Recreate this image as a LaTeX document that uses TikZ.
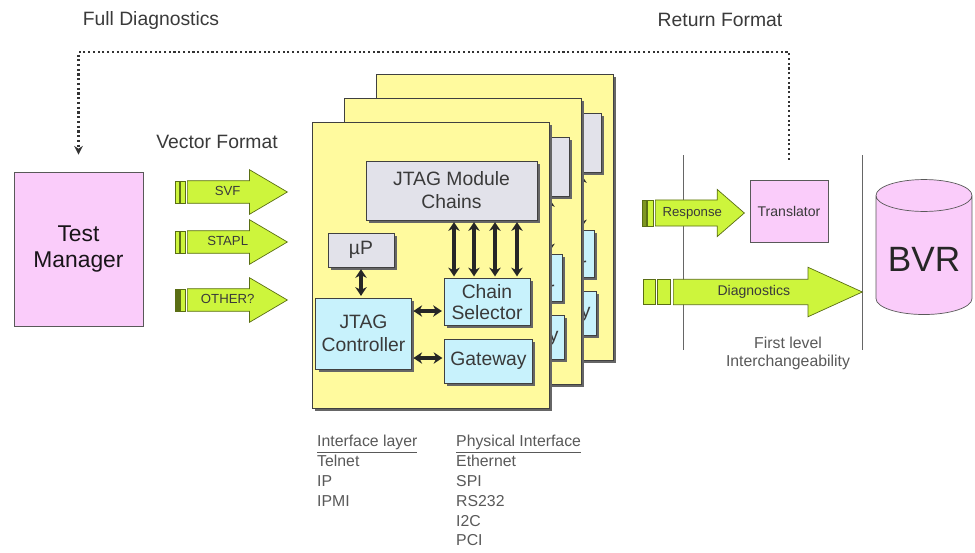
\documentclass[tikz,border=0pt]{standalone}
\usepackage{fontspec}
\setmainfont{Liberation Sans}
\usetikzlibrary{positioning,shapes.arrows,shapes.geometric,arrows.meta,shadows}

\definecolor{cardyellow}{HTML}{FFFA9E}
\definecolor{mgrpink}{HTML}{FACCFA}
\definecolor{ctrlcyan}{HTML}{C8F2FC}
\definecolor{chaingray}{HTML}{E2E2EA}
\definecolor{arrowgreen}{HTML}{CDF53C}
\definecolor{arrowedge}{HTML}{5A6E14}
\definecolor{inkgray}{HTML}{3A3A3A}

\tikzset{
    shadowed/.style={drop shadow={shadow xshift=1.6pt, shadow yshift=-1.6pt, opacity=1, fill=black!60}},
    card/.style={draw=black!75, fill=cardyellow, rectangle, shadowed},
    graybox/.style={draw=black!75, fill=chaingray, rectangle, align=center, text=inkgray,
        font=\fontsize{11}{13}\selectfont, shadowed},
    cyanbox/.style={graybox, fill=ctrlcyan},
    pinkbox/.style={draw=black!65, fill=mgrpink, rectangle, align=center},
    garrow/.style={single arrow, draw=arrowedge, fill=arrowgreen, anchor=tail,
        single arrow head indent=0pt, text=inkgray, font=\fontsize{7.5}{8}\selectfont,
        text height=5pt, text depth=1.5pt, inner xsep=2pt},
    stripe/.style={draw=arrowedge, fill=arrowgreen, rectangle, inner sep=0pt},
    dbl/.style={{Stealth[length=5pt,width=6.5pt]}-{Stealth[length=5pt,width=6.5pt]},
        line width=2pt, black!85, shorten <=1pt, shorten >=1pt},
    heading/.style={text=inkgray, font=\fontsize{11}{12}\selectfont},
    note/.style={text=black!65, align=left, font=\fontsize{9}{11.3}\selectfont},
    fb/.style={line width=1.2pt, black!80, dash pattern=on 1.2pt off 1.5pt,
        -{Stealth[length=5pt,width=5pt]}},
    sepline/.style={black!60, line width=0.5pt}
}

\begin{document}
\begin{tikzpicture}[x=0.02cm, y=-0.02cm]
    \useasboundingbox[fill=white] (0,0) rectangle (975,552);

    % headings
    \node[heading] (fulldiag) at (151,20) {Full Diagnostics};
    \node[heading] (retfmt) at (720,20) {Return Format};
    \node[heading] (vecfmt) at (217,142) {Vector Format};

    % Test Manager
    \node[pinkbox, minimum width=2.58cm, minimum height=3.08cm, text=black!75!mgrpink!40!black,
        font=\fontsize{13}{15}\selectfont] (tm) at (78.5,249) {Test\\Manager};

    % vector format arrows
    \node[garrow, minimum height=2cm, inner ysep=3pt, single arrow head extend=0.22cm,
        single arrow tip angle=61] (svf) at (187,192) {SVF};
    \node[stripe, minimum width=0.1cm, minimum height=0.44cm, left=0.02cm of svf.tail] (svfb) {};
    \node[stripe, minimum width=0.08cm, minimum height=0.44cm, left=0.02cm of svfb] (svfa) {};

    \node[garrow, minimum height=2cm, inner ysep=3pt, single arrow head extend=0.22cm,
        single arrow tip angle=61] (stapl) at (187,242) {STAPL};
    \node[stripe, minimum width=0.1cm, minimum height=0.44cm, left=0.02cm of stapl.tail] (staplb) {};
    \node[stripe, minimum width=0.08cm, minimum height=0.44cm, left=0.02cm of staplb] (stapla) {};

    \node[garrow, minimum height=2cm, inner ysep=3pt, single arrow head extend=0.22cm,
        single arrow tip angle=61] (other) at (187,300) {OTHER?};
    \node[stripe, minimum width=0.1cm, minimum height=0.44cm, left=0.02cm of other.tail] (otherb) {};
    \node[stripe, minimum width=0.08cm, minimum height=0.44cm, fill=arrowedge, left=0.02cm of otherb] (othera) {};

    % stacked controller cards, back to front (hidden labels only on the front card)
    \foreach \i/\dx/\dy/\shown in {2/64/-48/0, 1/32/-24/0, 0/0/0/1} {
        \begin{scope}[shift={(\dx,\dy)}]
            \node[card, minimum width=4.74cm, minimum height=5.72cm] (card\i) at (430.5,265) {};
            \node[graybox, minimum width=3.42cm, minimum height=1.18cm] (chains\i) at (451.5,190.5)
                {\ifnum\shown=1 JTAG Module\\Chains\fi};
            \node[graybox, minimum width=1.32cm, minimum height=0.68cm] (up\i) at (361,250)
                {\ifnum\shown=1 µP\fi};
            \node[cyanbox, minimum width=1.7cm, minimum height=1.42cm] (ctrl\i) at (363.5,333.5)
                {\ifnum\shown=1 JTAG\\Controller\fi};
            \node[cyanbox, minimum width=1.72cm, minimum height=0.84cm, font=\fontsize{11}{12}\selectfont] (sel\i) at (487,302) {Chain\\Selector};
            \node[cyanbox, minimum width=1.66cm, minimum height=0.88cm] (gw\i) at (488.5,361) {Gateway};

            \foreach \xx in {454,474,495,517}
                \draw[dbl] (\xx,0 |- chains\i.south) -- (\xx,0 |- sel\i.north);
            \draw[dbl] (up\i.south) -- (up\i.south |- ctrl\i.north);
            \draw[dbl] (ctrl\i.east |- 0,311) -- (sel\i.west |- 0,311);
            \draw[dbl] (ctrl\i.east |- 0,358) -- (gw\i.west |- 0,358);
        \end{scope}
    }

    % interface lists
    \node[note, anchor=north west] (iflayer) at (311,429) {\underline{Interface layer}\\Telnet\\IP\\IPMI};
    \node[note, anchor=north west] (phys) at (450,429) {\underline{Physical Interface}\\Ethernet\\SPI\\RS232\\I2C\\PCI};

    % first level interchangeability
    \draw[sepline] (683,155) -- (683,350);
    \draw[sepline] (862,155) -- (862,350);
    \node[note, align=center, font=\fontsize{9}{10.3}\selectfont] (flevel) at (788,353) {First level\\Interchangeability};

    % Translator
    \node[pinkbox, minimum width=1.56cm, minimum height=1.24cm, text=inkgray,
        font=\fontsize{8}{9}\selectfont] (trans) at (789,211) {Translator};

    \node[garrow, minimum height=1.78cm, inner ysep=4pt, single arrow head extend=0.21cm,
        single arrow tip angle=82] (resp) at (655,213) {Response};
    \node[stripe, minimum width=0.12cm, minimum height=0.52cm, left=0.02cm of resp.tail] (respb) {};
    \node[stripe, minimum width=0.08cm, minimum height=0.52cm, fill=arrowedge!70!arrowgreen, left=0.02cm of respb] (respa) {};

    \node[garrow, minimum height=3.78cm, inner ysep=3.8pt, single arrow head extend=0.24cm,
        single arrow tip angle=49, font=\fontsize{8}{9}\selectfont] (diag) at (673,292) {Diagnostics};
    \node[stripe, minimum width=0.26cm, minimum height=0.5cm, left=0.04cm of diag.tail] (diagb) {};
    \node[stripe, minimum width=0.24cm, minimum height=0.5cm, left=0.04cm of diagb] (diaga) {};

    % BVR
    \node[cylinder, shape border rotate=90, aspect=0.38, draw=black!65, fill=mgrpink,
        minimum width=1.92cm, minimum height=2.7cm, text=black!85,
        font=\fontsize{20}{22}\selectfont] (bvr) at (924,259) {BVR};

    % full diagnostics return path
    \draw[fb, shorten <=0.4cm, shorten >=0.34cm] (trans.north) -- (trans.north |- 0,52) -| (tm.north);
\end{tikzpicture}
\end{document}
